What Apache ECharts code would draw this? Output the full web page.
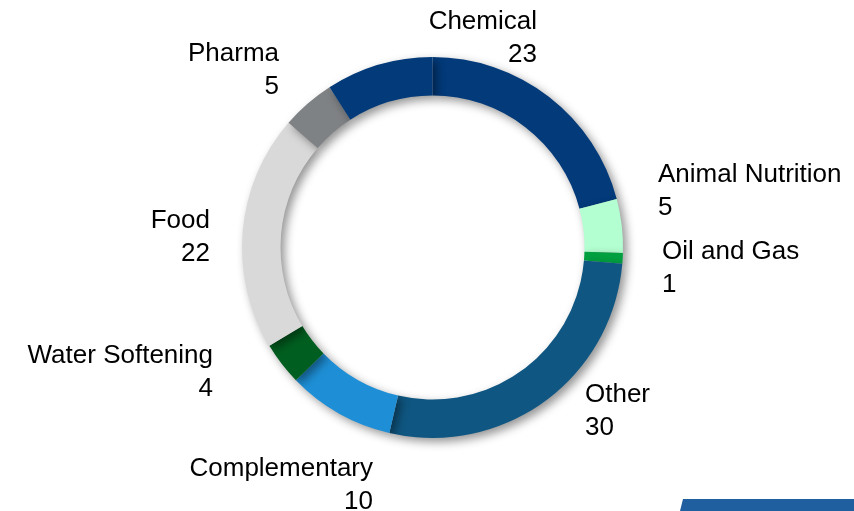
<!DOCTYPE html>
<html>
<head>
<meta charset="utf-8">
<script src="https://cdn.jsdelivr.net/npm/echarts@6/dist/echarts.min.js"></script>
<style>
  html, body { margin: 0; padding: 0; background: #ffffff; }
  #chart { width: 854px; height: 511px; }
</style>
</head>
<body>
<div id="chart"></div>
<script>
// Segments, clockwise from 12 o'clock
const categories = ['Chemical', 'Animal Nutrition', 'Oil and Gas', 'Other', 'Complementary',
                    'Water Softening', 'Food', 'Pharma', ''];
const values = [23, 5, 1, 30, 10, 4, 22, 5, 10];
const colors = ['#023A7A', '#B3FFD1', '#00A040', '#0F5782', '#1E8FD6',
                '#005F20', '#D9D9D9', '#7F8285', '#023A7A'];

// Label anchor points: [x, top y, alignment]
const labelSpots = [
  [537, 5, 'right'],
  [658, 158, 'left'],
  [662, 235, 'left'],
  [585, 378, 'left'],
  [373, 452, 'right'],
  [213, 339, 'right'],
  [210, 204, 'right'],
  [279, 37, 'right'],
  [0, 0, 'left']
];

const chart = echarts.init(document.getElementById('chart'), null, { renderer: 'canvas' });

const data = categories.map((name, i) => ({
  name: name,
  value: values[i],
  itemStyle: { color: colors[i] },
  label: { show: name !== '' }
}));

chart.setOption({
  animation: false,
  backgroundColor: '#ffffff',
  series: [{
    type: 'pie',
    center: [432.5, 247.5],
    radius: [152, 190.5],
    startAngle: 90,
    clockwise: true,
    avoidLabelOverlap: false,
    silent: true,
    itemStyle: {
      borderWidth: 0,
      shadowBlur: 10,
      shadowOffsetX: 4,
      shadowOffsetY: 4,
      shadowColor: 'rgba(0,0,0,0.42)'
    },
    label: {
      position: 'outside',
      formatter: '{b}\n{c}',
      fontFamily: 'Liberation Sans, Arial, sans-serif',
      fontSize: 26,
      lineHeight: 33,
      color: '#000000'
    },
    labelLine: { show: false },
    labelLayout: function (params) {
      const s = labelSpots[params.dataIndex];
      return { x: s[0], y: s[1], align: s[2], verticalAlign: 'top' };
    },
    data: data
  }],
  graphic: [{
    type: 'polygon',
    shape: { points: [[683, 499], [854, 499], [854, 511], [680, 511]] },
    style: { fill: '#1F5F9F' }
  }]
});
</script>
</body>
</html>
